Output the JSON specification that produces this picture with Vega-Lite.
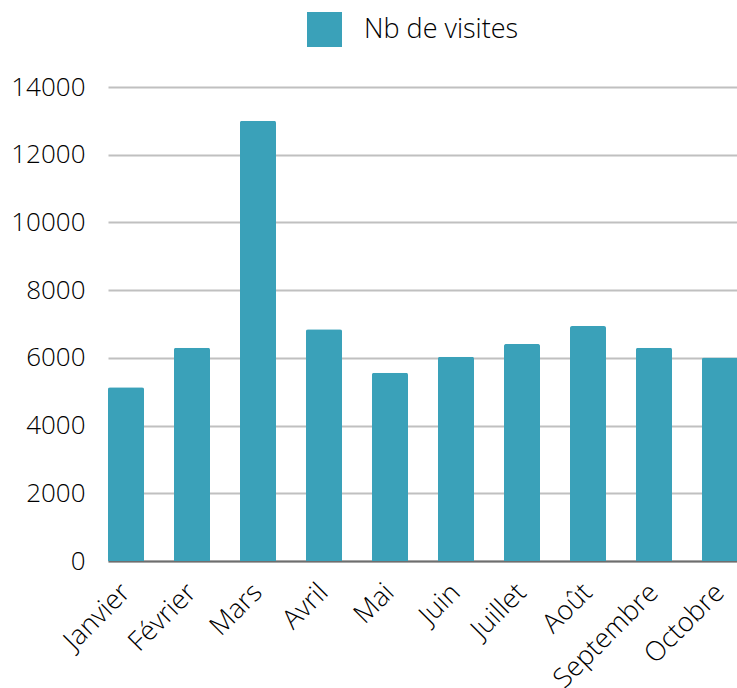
{
  "$schema": "https://vega.github.io/schema/vega-lite/v6.json",
  "autosize": "none",
  "width": 630,
  "height": 474,
  "padding": {"left": 108, "top": 87, "right": 0, "bottom": 127},
  "background": "white",
  "config": {
    "view": {"stroke": null},
    "font": "Open Sans",
    "axis": {"labelFont": "Open Sans", "labelColor": "#000000", "labelFontWeight": 300},
    "legend": {"labelFont": "Open Sans", "labelFontWeight": 300}
  },
  "data": {
    "values": [
      {"mois": "Janvier", "visites": 5130},
      {"mois": "Février", "visites": 6300},
      {"mois": "Mars", "visites": 13000},
      {"mois": "Avril", "visites": 6845},
      {"mois": "Mai", "visites": 5560},
      {"mois": "Juin", "visites": 6035},
      {"mois": "Juillet", "visites": 6410},
      {"mois": "Août", "visites": 6940},
      {"mois": "Septembre", "visites": 6300},
      {"mois": "Octobre", "visites": 6010}
    ]
  },
  "mark": {"type": "bar", "cornerRadiusTopLeft": 2, "cornerRadiusTopRight": 2},
  "encoding": {
    "x": {
      "field": "mois",
      "type": "nominal",
      "sort": null,
      "scale": {"paddingInner": 0.4545, "paddingOuter": 0},
      "axis": {
        "title": null,
        "labelAngle": -45,
        "labelAlign": "right",
        "labelBaseline": "middle",
        "labelFontSize": 27,
        "labelPadding": 27,
        "labelDx": 10,
        "ticks": false,
        "domainColor": "#6e6e6e",
        "domainWidth": 2,
        "grid": false
      }
    },
    "y": {
      "field": "visites",
      "type": "quantitative",
      "scale": {"domain": [0, 14000], "nice": false},
      "axis": {
        "title": null,
        "values": [0, 2000, 4000, 6000, 8000, 10000, 12000, 14000],
        "format": "d",
        "labelFontSize": 26,
        "labelPadding": 23,
        "ticks": false,
        "domain": false,
        "grid": true,
        "gridColor": "#c0c0c0",
        "gridWidth": 2
      }
    },
    "color": {
      "datum": "Nb de visites",
      "scale": {"range": ["#3aa1b9"]},
      "legend": {
        "title": null,
        "orient": "none",
        "legendX": 199,
        "legendY": -75,
        "symbolType": "square",
        "symbolSize": 1225,
        "symbolStrokeWidth": 0,
        "labelFontSize": 27,
        "labelOffset": 22,
        "labelColor": "#000000"
      }
    }
  }
}
